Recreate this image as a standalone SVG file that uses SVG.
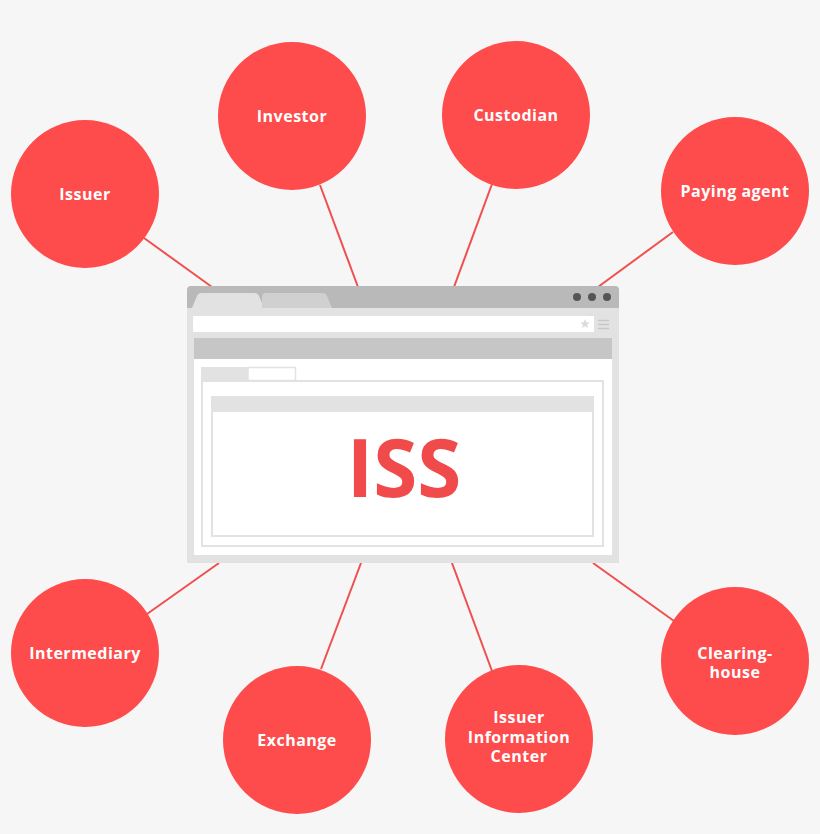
<svg xmlns="http://www.w3.org/2000/svg" width="820" height="834" viewBox="0 0 820 834">
<style>
.node circle{fill:#fe4b4b}
.node text{fill:#ffffff;font-family:"Open Sans","Liberation Sans",sans-serif;font-weight:700;font-size:16px;letter-spacing:0.5px;text-anchor:middle}
.conn line{stroke:#f04f4f;stroke-width:2}
</style>
<rect width="820" height="834" fill="#f6f6f6"/>
<g id="connectors" class="conn">
<line x1="144" y1="238" x2="212" y2="287"/>
<line x1="320" y1="185" x2="358" y2="287"/>
<line x1="492" y1="184" x2="454" y2="287"/>
<line x1="673" y1="232" x2="598" y2="287"/>
<line x1="147" y1="614" x2="219" y2="563"/>
<line x1="321" y1="669" x2="361" y2="563"/>
<line x1="492" y1="671" x2="452" y2="563"/>
<line x1="674" y1="621" x2="593" y2="563"/>
</g>
<g id="browser">
<path d="M187 290 Q187 286 191 286 L615 286 Q619 286 619 290 L619 308 L187 308 Z" fill="#b9b9b9"/>
<path d="M192 308 L197 296 Q198 293 202 293 L254 293 Q258 293 259 296 L264 308 Z" fill="#e2e2e2"/>
<path d="M262 308 L262 297 Q262 293 266 293 L322 293 Q326 293 327 296 L332 308 Z" fill="#d0d0d0"/>
<circle cx="577" cy="297" r="4" fill="#555555"/>
<circle cx="592" cy="297" r="4" fill="#555555"/>
<circle cx="607" cy="297" r="4" fill="#555555"/>
<rect x="187" y="308" width="432" height="255" fill="#e2e2e2"/>
<rect x="193" y="316" width="401" height="16" fill="#ffffff"/>
<polygon points="585,319 586.3,322.3 589.8,322.5 587.1,324.7 588,328 585,326.2 582,328 582.9,324.7 580.2,322.5 583.7,322.3" fill="#dcdcdc"/>
<g stroke="#c8c8c8" stroke-width="1.5">
<line x1="598" y1="320.5" x2="609" y2="320.5"/>
<line x1="598" y1="324.5" x2="609" y2="324.5"/>
<line x1="598" y1="328.5" x2="609" y2="328.5"/>
</g>
<rect x="194" y="338" width="418" height="21" fill="#c6c6c6"/>
<rect x="194" y="359" width="418" height="196" fill="#ffffff"/>
<rect x="201" y="367" width="47" height="14" fill="#e2e2e2"/>
<rect x="248" y="367.5" width="47.5" height="13" fill="#ffffff" stroke="#e2e2e2" stroke-width="1.5"/>
<rect x="202" y="381" width="401" height="165" fill="#ffffff" stroke="#e2e2e2" stroke-width="2"/>
<rect x="212" y="397" width="381" height="139" fill="#ffffff" stroke="#e2e2e2" stroke-width="2"/>
<rect x="212" y="397" width="381" height="15" fill="#e2e2e2"/>
<text x="404" y="497" fill="#f04a4a" font-family="'Open Sans','Liberation Sans',sans-serif" font-weight="700" font-size="80" text-anchor="middle">ISS</text>
</g>
<g id="issuer" class="node"><circle cx="85" cy="194" r="74"/><text x="85" y="200">Issuer</text></g>
<g id="investor" class="node"><circle cx="292" cy="116" r="74"/><text x="292" y="122">Investor</text></g>
<g id="custodian" class="node"><circle cx="516" cy="115" r="74"/><text x="516" y="121">Custodian</text></g>
<g id="paying-agent" class="node"><circle cx="735" cy="191" r="74"/><text x="735" y="197">Paying agent</text></g>
<g id="intermediary" class="node"><circle cx="85" cy="653" r="74"/><text x="85" y="659">Intermediary</text></g>
<g id="exchange" class="node"><circle cx="297" cy="740" r="74"/><text x="297" y="746">Exchange</text></g>
<g id="issuer-information-center" class="node"><circle cx="519" cy="739" r="74"/><text x="519" y="723">Issuer</text><text x="519" y="743">Information</text><text x="519" y="762">Center</text></g>
<g id="clearing-house" class="node"><circle cx="735" cy="661" r="74"/><text x="735" y="659">Clearing-</text><text x="735" y="678">house</text></g>
</svg>
